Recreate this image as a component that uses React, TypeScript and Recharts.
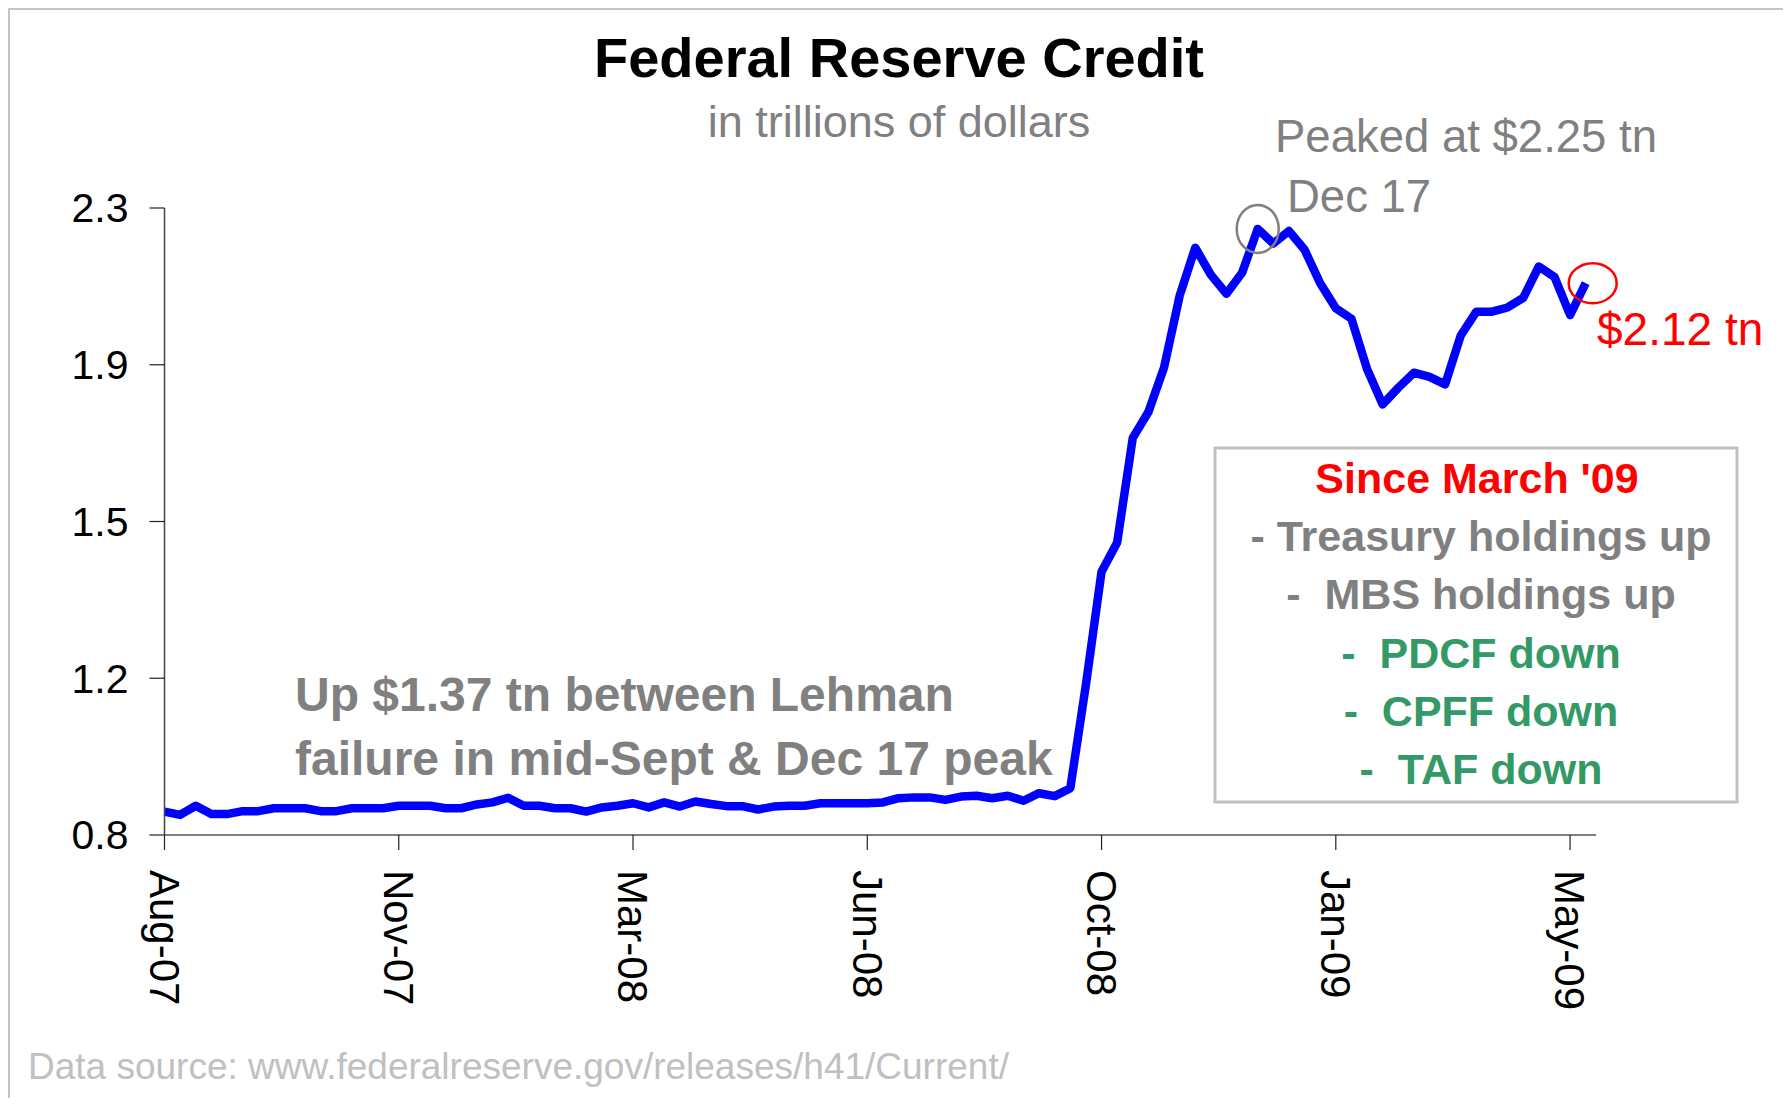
import React from "react";
import { LineChart, Line, XAxis, YAxis, ReferenceDot } from "recharts";

// weekly Reserve Bank credit, trillions of dollars, week 0 = Aug 15 2007
const credit = [
  0.856, 0.848, 0.87, 0.85, 0.85, 0.857, 0.857, 0.864, 0.864, 0.864,
  0.857, 0.857, 0.864, 0.864, 0.864, 0.87, 0.87, 0.87, 0.864, 0.864,
  0.873, 0.878, 0.889, 0.87, 0.87, 0.864, 0.864, 0.856, 0.866, 0.87,
  0.876, 0.866, 0.878, 0.868, 0.88, 0.874, 0.869, 0.869, 0.861, 0.868,
  0.87, 0.87, 0.876, 0.876, 0.876, 0.876, 0.878, 0.888, 0.89, 0.89,
  0.884, 0.892, 0.894, 0.888, 0.894, 0.882, 0.9, 0.893, 0.912, 1.16,
  1.43, 1.5, 1.75, 1.812, 1.918, 2.09, 2.205, 2.14, 2.095, 2.145,
  2.25, 2.215, 2.245, 2.2, 2.12, 2.06, 2.035, 1.915, 1.83, 1.87,
  1.906, 1.896, 1.878, 1.995, 2.052, 2.052, 2.062, 2.085, 2.16, 2.135,
  2.044, 2.12,
];

const xTicks = [0, 15, 30, 45, 60, 75, 90];
const xTickLabels = ["Aug-07", "Nov-07", "Mar-08", "Jun-08", "Oct-08", "Jan-09", "May-09"];
const yTicks = [0.8, 1.175, 1.55, 1.925, 2.3];
const yTickLabels = ["0.8", "1.2", "1.5", "1.9", "2.3"];

const peakWeek = 70;
const peakValue = 2.25;
const lastWeek = 91;
const lastValue = 2.12;

const noteLines = [
  { text: "Since March '09", color: "#ff0000" },
  { text: "- Treasury holdings up", color: "#808080" },
  { text: "-  MBS holdings up", color: "#808080" },
  { text: "-  PDCF down", color: "#339966" },
  { text: "-  CPFF down", color: "#339966" },
  { text: "-  TAF down", color: "#339966" },
];

const data = credit.map((v, i) => ({ week: i, credit: v }));

const FONT = "'Liberation Sans', Arial, Helvetica, sans-serif";
const W = 1777;
const H = 1088;
// plot area inside the frame
const PLOT_L = 154.5;
const PLOT_T = 198;
const PLOT_R = 1586;
const PLOT_B = 825;

const XTick = (props: any) => {
  const { x, payload } = props;
  const idx = xTicks.indexOf(payload.value);
  return (
    <text
      transform={`translate(${x},${PLOT_B + 35}) rotate(90)`}
      dy="0.35em"
      textAnchor="start"
      fontSize={42}
      fontFamily={FONT}
      fill="#000"
    >
      {xTickLabels[idx]}
    </text>
  );
};

const YTick = (props: any) => {
  const { y, payload } = props;
  const idx = yTicks.indexOf(payload.value);
  return (
    <text x={PLOT_L - 36} y={y} dy="0.35em" textAnchor="end" fontSize={41} fontFamily={FONT} fill="#000">
      {yTickLabels[idx]}
    </text>
  );
};

const App = () => {
  return (
    <div
      style={{
        position: "relative",
        width: 1781,
        height: 1090,
        boxSizing: "border-box",
        border: "2px solid #c4c4c4",
        borderBottom: "none",
        background: "#fff",
        fontFamily: FONT,
        overflow: "hidden",
      }}
    >
      <style>{"html,body{overflow:hidden}"}</style>
      <LineChart
        width={W}
        height={H}
        data={data}
        margin={{ top: PLOT_T, left: PLOT_L - 60, right: W - PLOT_R, bottom: H - PLOT_B - 40 }}
      >
        <XAxis
          dataKey="week"
          type="number"
          domain={[0, 91.66]}
          ticks={xTicks}
          interval={0}
          height={40}
          tickSize={15}
          tick={XTick}
          axisLine={{ stroke: "#555", strokeWidth: 1.5 }}
          tickLine={{ stroke: "#222", strokeWidth: 1.2 }}
        />
        <YAxis
          type="number"
          domain={[0.8, 2.3]}
          ticks={yTicks}
          interval={0}
          width={60}
          tickSize={15}
          tick={YTick}
          axisLine={{ stroke: "#444", strokeWidth: 1.5 }}
          tickLine={{ stroke: "#222", strokeWidth: 1.2 }}
        />
        <Line
          type="linear"
          dataKey="credit"
          stroke="#0000ff"
          strokeWidth={8.5}
          strokeLinejoin="round"
          dot={false}
          isAnimationActive={false}
        />
        <ReferenceDot
          x={peakWeek}
          y={peakValue}
          shape={(p: any) => (
            <ellipse cx={p.cx} cy={p.cy} rx={21} ry={24} fill="none" stroke="#808080" strokeWidth={2.5} />
          )}
        />
        <ReferenceDot
          x={lastWeek}
          y={lastValue}
          shape={(p: any) => (
            <ellipse cx={p.cx + 7} cy={p.cy} rx={24} ry={20} fill="none" stroke="#ff0000" strokeWidth={2.5} />
          )}
        />
      </LineChart>

      <svg
        width={W}
        height={H}
        style={{ position: "absolute", left: 0, top: 0, pointerEvents: "none" }}
        fontFamily={FONT}
      >
        <text x={889} y={67} textAnchor="middle" fontSize={56} fontWeight="bold" fill="#000">
          Federal Reserve Credit
        </text>
        <text x={889} y={127} textAnchor="middle" fontSize={45} fill="#808080">
          in trillions of dollars
        </text>
        <text x={1265} y={142} fontSize={45.5} fill="#808080">
          Peaked at $2.25 tn
        </text>
        <text x={1277} y={202} fontSize={45.5} fill="#808080">
          Dec 17
        </text>
        <text x={1587} y={335} fontSize={46} fill="#ff0000">
          $2.12 tn
        </text>
        <text x={285} y={701} fontSize={48} fontWeight="bold" fill="#808080">
          Up $1.37 tn between Lehman
        </text>
        <text x={285} y={765} fontSize={48} fontWeight="bold" fill="#808080">
          failure in mid-Sept &amp; Dec 17 peak
        </text>

        <rect x={1205} y={438} width={522} height={354} fill="#fff" stroke="#c0c0c0" strokeWidth={3} />
        {noteLines.map((l, i) => (
          <text
            key={i}
            x={i === 0 ? 1467 : 1471}
            y={483 + i * 58.2}
            textAnchor="middle"
            fontSize={43}
            fontWeight="bold"
            fill={l.color}
            xmlSpace="preserve"
            style={{ whiteSpace: "pre" }}
          >
            {l.text}
          </text>
        ))}

        <text x={18} y={1069} fontSize={37} fill="#c0c0c0">
          Data source: www.federalreserve.gov/releases/h41/Current/
        </text>
      </svg>
    </div>
  );
};

export default App;
